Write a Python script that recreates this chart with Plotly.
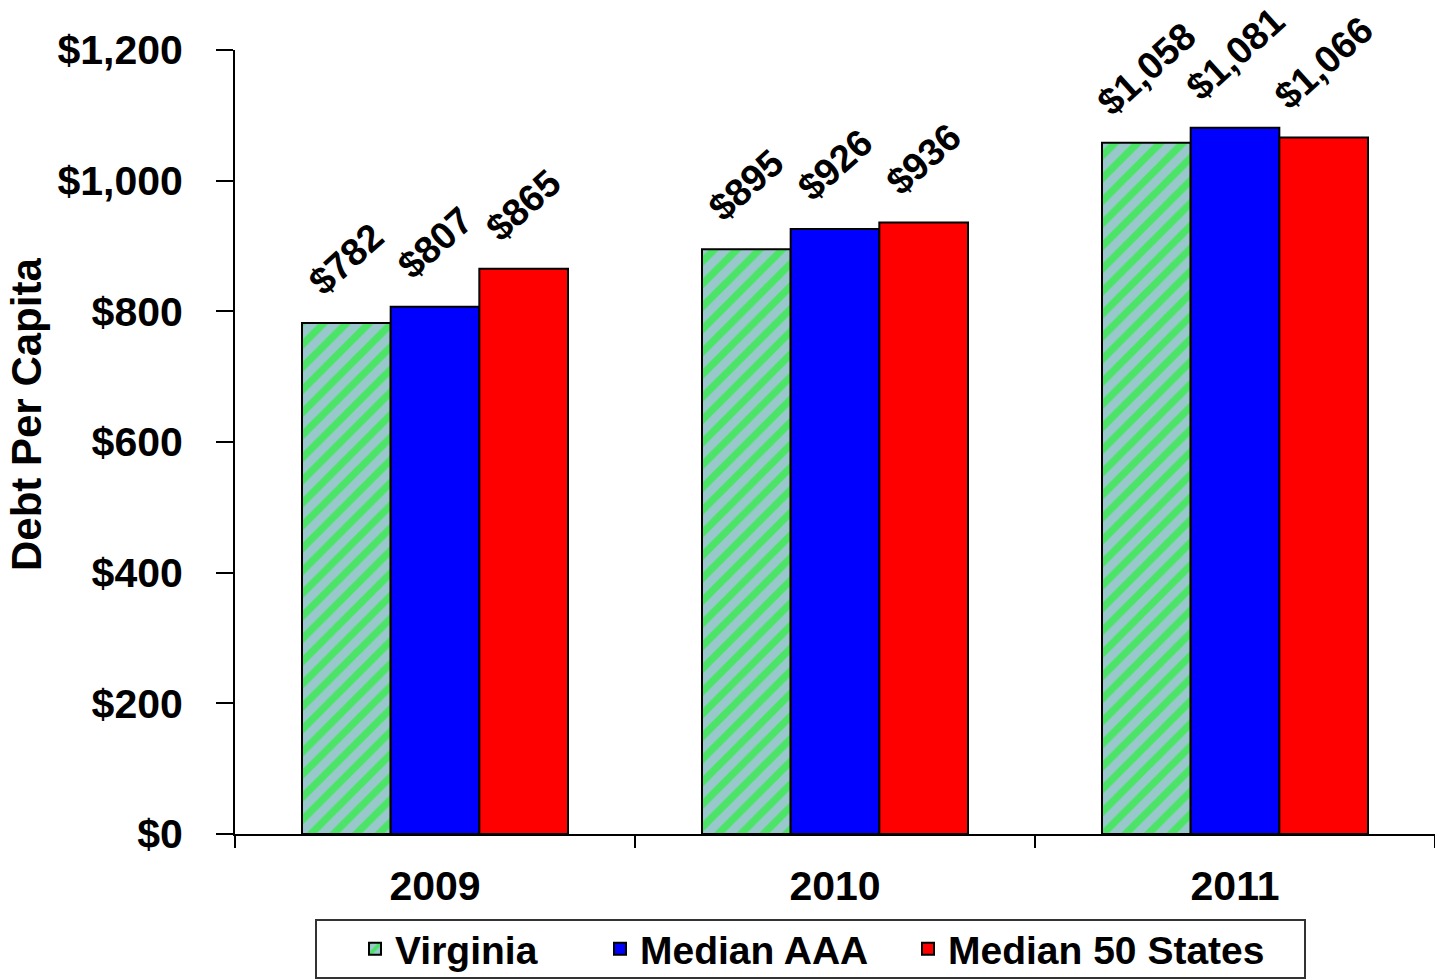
import plotly.graph_objects as go

years = ["2009", "2010", "2011"]
virginia = [782, 895, 1058]
median_aaa = [807, 926, 1081]
median_50 = [865, 936, 1066]
y_ticks = [0, 200, 400, 600, 800, 1000, 1200]

series = [
    ("Virginia", virginia, dict(color="#99CCCC", pattern=dict(shape="/", fgcolor="#00FF00",
                                                            bgcolor="#99C8CC", size=16, solidity=0.45))),
    ("Median AAA", median_aaa, dict(color="#0000FF")),
    ("Median 50 States", median_50, dict(color="#FF0000")),
]

BARGAP = 0.335
FONT = "Liberation Sans, Arial, sans-serif"
W, H = 1435, 980
ML, MR, MT, MB = 235, 0, 50, 146
PW, PH = W - ML - MR, H - MT - MB


def px_x(px):
    return (px - ML) / PW


def px_y(py):
    return (H - MB - py) / PH


legend_names = ["legend", "legend2", "legend3"]
legend_left = [355, 600, 908]

fig = go.Figure()
for (name, vals, marker), lg in zip(series, legend_names):
    marker["line"] = dict(color="#000000", width=2)
    fig.add_trace(go.Bar(name=name, x=years, y=vals, marker=marker, legend=lg))

# value labels above each bar, rotated
bar_w = (1 - BARGAP) / len(series)
annotations = []
for si, (name, vals, _) in enumerate(series):
    off = (si - (len(series) - 1) / 2) * bar_w
    for ci, v in enumerate(vals):
        annotations.append(dict(
            x=ci + off, y=v, xref="x", yref="y",
            text=f"${v:,}", showarrow=False, textangle=-42,
            xanchor="center", yanchor="bottom", yshift=17,
            font=dict(family=FONT, size=38, color="#000000", weight="bold"),
        ))

# axis title
annotations.append(dict(
    x=px_x(27), y=px_y(415), xref="paper", yref="paper",
    text="Debt Per Capita", showarrow=False, textangle=-90,
    xanchor="center", yanchor="middle",
    font=dict(family=FONT, size=42, color="#000000", weight="bold"),
))

legend_font = dict(family=FONT, size=39, color="#000000", weight="bold")
legends = {}
for lg, lx in zip(legend_names, legend_left):
    legends[lg] = dict(
        orientation="h", x=px_x(lx), xanchor="left",
        y=px_y(949), yanchor="middle", borderwidth=0,
        bgcolor="rgba(0,0,0,0)", font=legend_font,
    )

fig.update_layout(
    width=W, height=H,
    margin=dict(l=ML, r=MR, t=MT, b=MB, pad=0, autoexpand=False),
    paper_bgcolor="#FFFFFF", plot_bgcolor="#FFFFFF",
    barmode="group", bargap=BARGAP, bargroupgap=0,
    annotations=annotations,
    showlegend=True,
    shapes=[dict(
        type="rect", xref="paper", yref="paper",
        x0=px_x(316), x1=px_x(1305), y0=px_y(978), y1=px_y(920),
        line=dict(color="#333333", width=2), fillcolor="rgba(0,0,0,0)", layer="below",
    )],
    xaxis=dict(
        type="category", showline=True, linecolor="#000000", linewidth=2,
        ticks="outside", tickson="boundaries", ticklen=12, tickcolor="#000000", tickwidth=1.5,
        tickfont=dict(family=FONT, size=41, color="#000000", weight="bold"),
        ticklabelstandoff=15, showgrid=False, zeroline=False,
    ),
    yaxis=dict(
        range=[0, 1200], tickmode="array", tickvals=y_ticks,
        ticktext=[f"${v:,}" for v in y_ticks],
        showline=True, linecolor="#000000", linewidth=2,
        ticks="outside", ticklen=17, tickcolor="#000000", tickwidth=1.5,
        tickfont=dict(family=FONT, size=41, color="#000000", weight="bold"),
        ticklabelstandoff=25, showgrid=False, zeroline=False,
    ),
    **legends,
)

fig.write_html("out.html")
